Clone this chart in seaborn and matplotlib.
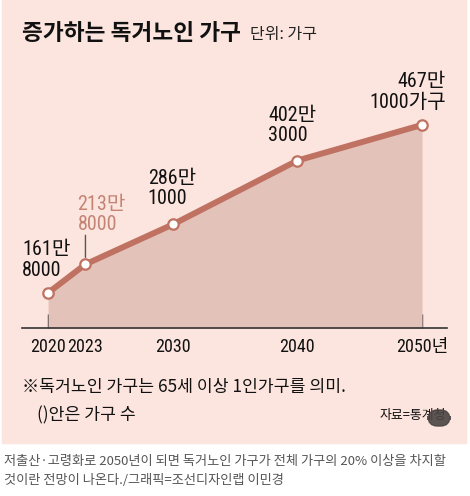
import numpy as np
import pandas as pd
import seaborn as sns
import matplotlib.pyplot as plt
from matplotlib.patches import Rectangle, FancyBboxPatch

sns.set_theme(style="white")
plt.rcParams['font.family'] = ['Noto Sans CJK KR', 'DejaVu Sans']
narrow = ['Roboto Condensed', 'Noto Sans CJK KR', 'DejaVu Sans']

# data (단위: 만 가구)
years = [2020, 2023, 2030, 2040, 2050]
households = [161.8, 213.8, 286.1, 402.3, 467.1]
point_labels = ["161만\n8000", "213만\n8000", "286만\n1000", "402만\n3000", "467만\n1000가구"]
tick_labels = ["2020", "2023", "2030", "2040", "2050년"]

df = pd.DataFrame({"year": years, "households": households})

bg = "#fde5df"
fill_col = "#e3c2ba"
line_col = "#c07262"
hi_col = "#c48474"

W, H = 470, 496
fig = plt.figure(figsize=(W / 100, H / 100), dpi=100)
fig.patch.set_facecolor("white")

# pink panel
panel = Rectangle((2 / W, 1 - 443 / H), 464 / W, 443 / H,
                  transform=fig.transFigure, color=bg, zorder=-5)
fig.patches.append(panel)

# axes: x px 22..447, y px 60..328
ax = fig.add_axes([22 / W, 1 - 328 / H, 425 / W, 268 / H])
ax.set_zorder(2)
ax.set_facecolor("none")
ax.set_xlim(2017.91, 2052.0)
ax.set_ylim(98, 585)

ax.fill_between(df["year"], df["households"], 98, color=fill_col, lw=0, zorder=1)
sns.lineplot(data=df, x="year", y="households", ax=ax, color=line_col,
             linewidth=4.3, marker="o", markersize=7.5, markerfacecolor="white",
             markeredgecolor=line_col, markeredgewidth=1.6, zorder=3)

offsets = [(-26, 33), (-8, 50), (-25, 36), (-29, 35), (24, 33)]
for i, (x, y, lab) in enumerate(zip(years, households, point_labels)):
    dx, dy = offsets[i]
    ha = "right" if i == len(years) - 1 else "left"
    ax.annotate(lab, (x, y), xytext=(dx, dy), textcoords="offset pixels",
                ha=ha, va="center", multialignment=ha, fontsize=14.5,
                family=narrow, fontweight="normal", linespacing=1.1,
                color=hi_col if i == 1 else "#111111", zorder=4)

# connector for 2023 label
ax.annotate("", (years[1], households[1]), xytext=(0, 29), textcoords="offset pixels",
            arrowprops=dict(arrowstyle="-", color="#555555", lw=1.0,
                            shrinkA=0, shrinkB=5))

ax.set_xticks(years)
ax.set_xticklabels(tick_labels, fontsize=13, family=narrow)
ax.set_yticks([])
ax.tick_params(axis="x", direction="in", length=10, width=1.0, color="#333333",
               pad=7, labelcolor="#111111", bottom=True)
for s in ["top", "right", "left"]:
    ax.spines[s].set_visible(False)
ax.spines["bottom"].set_color("#333333")
ax.spines["bottom"].set_linewidth(1.2)
ax.set_xlabel("")
ax.set_ylabel("")

# titles
fig.text(22 / W, 1 - 33 / H, "증가하는 독거노인 가구", fontsize=16.3, fontweight="bold",
         color="#111111", va="center", ha="left")
fig.text(250 / W, 1 - 34 / H, "단위: 가구", fontsize=11.5, color="#222222",
         va="center", ha="left")

# footnotes
fig.text(22 / W, 1 - 387 / H, "※독거노인 가구는 65세 이상 1인가구를 의미.", fontsize=12.4,
         color="#111111", va="center", ha="left")
fig.text(37 / W, 1 - 415 / H, "()안은 가구 수", fontsize=12.4,
         color="#111111", va="center", ha="left")
fig.text(446 / W, 1 - 416 / H, "자료=통계청", fontsize=9.3, color="#111111",
         va="center", ha="right")
fig.patches.append(FancyBboxPatch((428 / W, 1 - 426 / H), 22 / W, 16 / H,
                                  boxstyle="round,pad=0,rounding_size=0.02",
                                  transform=fig.transFigure, color="#4a4443",
                                  alpha=0.9, zorder=5))

# caption
fig.text(4 / W, 1 - 462 / H,
         "저출산·고령화로 2050년이 되면 독거노인 가구가 전체 가구의 20% 이상을 차지할",
         fontsize=9.5, color="#555555", va="center", ha="left")
fig.text(4 / W, 1 - 480 / H, "것이란 전망이 나온다./그래픽=조선디자인랩 이민경",
         fontsize=9.5, color="#555555", va="center", ha="left")

fig.savefig("out.png", dpi=100, facecolor=fig.get_facecolor())
